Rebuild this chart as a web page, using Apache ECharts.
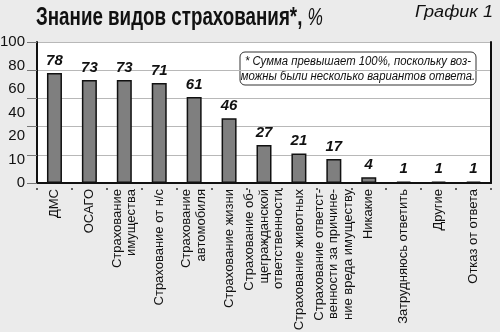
<!DOCTYPE html>
<html><head><meta charset="utf-8">
<script src="https://cdn.jsdelivr.net/npm/echarts@6/dist/echarts.min.js"></script>
<style>html,body{margin:0;padding:0;background:#ebebeb}#c{width:500px;height:332px}</style>
</head><body><div id="c"></div>
<script>
var categories = [
  "ДМС",
  "ОСАГО",
  "Страхование\nимущества",
  "Страхование от н/с",
  "Страхование\nавтомобиля",
  "Страхование жизни",
  "Страхование об-\nщегражданской\nответственности",
  "Страхование животных",
  "Страхование ответст-\nвенности за причине-\nние вреда имуществу",
  "Никакие",
  "Затрудняюсь ответить",
  "Другие",
  "Отказ от ответа"
];
var values = [78, 73, 73, 71, 61, 46, 27, 21, 17, 4, 1, 1, 1];
var yTickLabels = ["0", "10", "20", "40", "60", "80", "100"];
var titleText = "Знание видов страхования*, ";
var titleUnit = "%";
var chartNo = "График 1";
var noteLines = ["* Сумма превышает 100%, поскольку воз-", "можны были несколько вариантов ответа."];

var SANS = '"Liberation Sans",Arial,sans-serif';

function measure(font, txt) {
  var c = document.createElement('canvas').getContext('2d');
  c.font = font;
  return c.measureText(txt).width;
}
var titleW = measure('bold 26px ' + SANS, titleText) + measure('italic 24px ' + SANS, titleUnit);
var titleScale = 287 / titleW;
var noteScale = 226 / measure('italic 12.5px ' + SANS, noteLines[0]);
var noScale = 78 / measure('italic 16px ' + SANS, chartNo);

var chart = echarts.init(document.getElementById('c'), null, {renderer: 'canvas'});
chart.setOption({
  backgroundColor: '#ebebeb',
  animation: false,
  grid: {left: 37, right: 9, top: 42, bottom: 149, backgroundColor: '#fff', show: true, borderWidth: 0, outerBoundsMode: 'none', containLabel: false},
  xAxis: {
    type: 'category',
    data: categories,
    axisLine: {lineStyle: {color: '#111', width: 2}},
    axisTick: {show: true, alignWithLabel: false, length: 9, lineStyle: {color: '#333', width: 1.5, type: [0.01, 5, 2, 20]}},
    axisLabel: {interval: 0, rotate: 90, margin: 6, fontFamily: SANS, fontSize: 13, color: '#111', lineHeight: 14.5}
  },
  yAxis: [
    {
      type: 'value', min: 0, max: 100, interval: 20, position: 'left',
      axisLine: {show: true, lineStyle: {color: '#111', width: 2}},
      axisTick: {show: true, length: 10, lineStyle: {color: '#777', width: 1}},
      axisLabel: {show: false},
      splitLine: {show: true, lineStyle: {color: '#b8b8b8', width: 1}}
    },
    {
      type: 'value', min: 0, max: 100, position: 'right',
      axisLine: {show: true, lineStyle: {color: '#111', width: 2}},
      axisTick: {show: false}, axisLabel: {show: false}, splitLine: {show: false}
    },
    {
      type: 'value', min: 0, max: 6, interval: 1, position: 'left',
      axisLine: {show: false}, axisTick: {show: false}, splitLine: {show: false},
      axisLabel: {
        margin: 12, fontFamily: SANS, fontSize: 15, color: '#111',
        formatter: function (v) { return yTickLabels[Math.round(v)]; }
      }
    }
  ],
  series: [{
    type: 'bar',
    data: values,
    yAxisIndex: 0,
    barWidth: 15,
    itemStyle: {color: '#7f7f7f', borderColor: '#111', borderWidth: 1.5},
    label: {
      show: true, position: 'top', distance: 5,
      fontFamily: SANS, fontWeight: 'bold', fontStyle: 'italic', fontSize: 15, color: '#111'
    }
  }],
  graphic: [
    {
      type: 'text', x: 36, y: 18, scaleX: titleScale,
      style: {
        text: '{b|' + titleText + '}{u|' + titleUnit + '}', verticalAlign: 'middle',
        rich: {
          b: {fontFamily: SANS, fontWeight: 'bold', fontSize: 26, fill: '#111'},
          u: {fontFamily: SANS, fontStyle: 'italic', fontSize: 24, fill: '#111'}
        }
      }
    },
    {
      type: 'text', x: 493, y: 13, scaleX: noScale,
      style: {text: chartNo, align: 'right', verticalAlign: 'middle', fontFamily: SANS, fontStyle: 'italic', fontSize: 16, fill: '#111'}
    },
    {
      type: 'group', x: 240, y: 52,
      children: [
        {type: 'rect', shape: {x: 0, y: 0, width: 236, height: 33, r: 5},
         style: {fill: '#fff', stroke: '#333', lineWidth: 1}},
        {type: 'text', x: 118, y: 9.5, scaleX: noteScale, style: {text: noteLines[0], align: 'center', verticalAlign: 'middle',
          fontFamily: SANS, fontStyle: 'italic', fontSize: 12.5, fill: '#111'}},
        {type: 'text', x: 118, y: 24.5, scaleX: noteScale, style: {text: noteLines[1], align: 'center', verticalAlign: 'middle',
          fontFamily: SANS, fontStyle: 'italic', fontSize: 12.5, fill: '#111'}}
      ]
    }
  ]
});
</script>
</body></html>
